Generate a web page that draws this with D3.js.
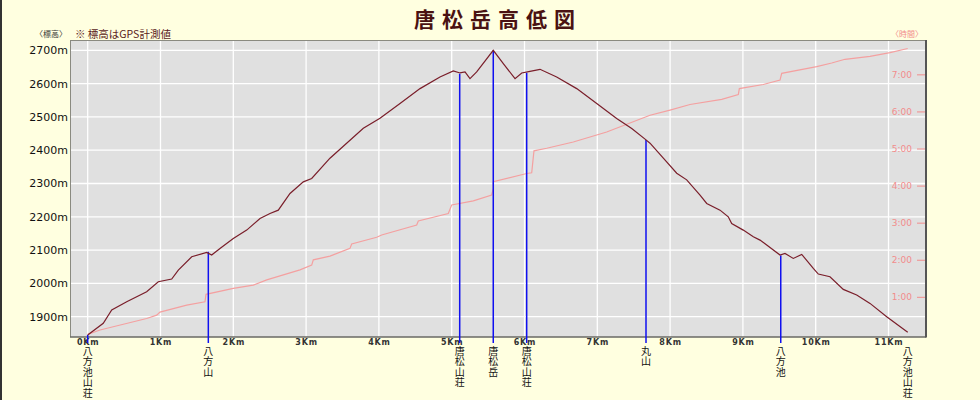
<!DOCTYPE html>
<html lang="ja">
<head>
<meta charset="UTF-8">
<title>唐松岳高低図</title>
<script src="https://cdnjs.cloudflare.com/ajax/libs/d3/7.8.5/d3.min.js"></script>
<style>
  body { margin: 0; background: #FFFFE0; }
  svg { display: block; }
  text { font-family: "DejaVu Sans", sans-serif; }
  .jp { font-family: "Noto Sans CJK JP", sans-serif; }
  .tate { writing-mode: vertical-rl; text-orientation: upright; }
</style>
</head>
<body>
<div id="chart"></div>
<script>
// 標高 (km, m)
const distKm = [0, 0.214, 0.330, 0.536, 0.810, 0.970, 1.154, 1.245, 1.429, 1.635, 1.703, 1.817, 2.0, 2.184, 2.367, 2.504, 2.618, 2.779, 2.962, 3.077, 3.328, 3.786, 4.015, 4.290, 4.565, 4.839, 5.022, 5.114, 5.183, 5.251, 5.343, 5.571, 5.709, 5.870, 5.962, 6.075, 6.213, 6.442, 6.717, 6.992, 7.266, 7.473, 7.669, 7.724, 7.907, 8.091, 8.228, 8.411, 8.503, 8.686, 8.799, 8.846, 9.005, 9.143, 9.235, 9.327, 9.510, 9.578, 9.692, 9.808, 9.967, 10.036, 10.196, 10.379, 10.563, 10.746, 10.975, 11.264];
const elevM = [1845, 1880, 1920, 1945, 1975, 2005, 2013, 2040, 2080, 2093, 2085, 2105, 2135, 2160, 2195, 2210, 2220, 2270, 2305, 2315, 2376, 2466, 2496, 2540, 2585, 2620, 2638, 2632, 2635, 2615, 2635, 2700, 2660, 2615, 2632, 2637, 2643, 2620, 2585, 2540, 2495, 2465, 2431, 2421, 2376, 2331, 2311, 2265, 2240, 2220, 2200, 2180, 2160, 2140, 2130, 2115, 2085, 2090, 2075, 2087, 2045, 2028, 2020, 1982, 1965, 1940, 1900, 1853];

// 時間 (km, 時間)
const timeKm = [0, 0.169, 0.810, 0.948, 0.993, 1.360, 1.611, 1.625, 2.0, 2.275, 2.459, 2.916, 3.077, 3.099, 3.328, 3.603, 3.626, 3.970, 4.038, 4.519, 4.541, 4.953, 5.0, 5.297, 5.549, 5.571, 5.571, 6.03, 6.099, 6.13, 6.305, 6.670, 7.129, 7.724, 7.999, 8.273, 8.709, 8.937, 8.951, 9.280, 9.510, 9.533, 10.014, 10.220, 10.402, 10.746, 11.021, 11.264];
const timeH = [0, 0.12, 0.43, 0.52, 0.60, 0.79, 0.88, 1.08, 1.24, 1.33, 1.47, 1.74, 1.87, 2.01, 2.11, 2.32, 2.44, 2.62, 2.68, 2.95, 3.06, 3.26, 3.49, 3.60, 3.76, 3.94, 4.12, 4.34, 4.36, 4.95, 5.02, 5.19, 5.46, 5.91, 6.05, 6.20, 6.34, 6.47, 6.63, 6.74, 6.86, 7.04, 7.22, 7.32, 7.42, 7.50, 7.60, 7.71];

// 地点
const placeNames = ["八方池山荘", "八方山", "唐松山荘", "唐松岳", "唐松山荘", "丸山", "八方池", "八方池山荘"];
const placeKm = [0, 1.657, 5.11, 5.571, 6.03, 7.669, 9.52, 11.264];
const placeElev = [1845, 2095, 2630, 2700, 2633, 2431, 2084, 1853];
const placeLine = [true, true, true, true, true, true, true, false];

const kmTicks = d3.range(0, 12);
const elevTicks = d3.range(1900, 2701, 100);
const timeTicks = [1, 2, 3, 4, 5, 6, 7];

const W = 980, H = 400;
const L = 70, R = 926, T = 40, B = 337;

const svg = d3.select("#chart").append("svg")
  .attr("width", W).attr("height", H);

svg.append("rect").attr("width", W).attr("height", H).attr("fill", "#FFFFE0");
svg.append("rect").attr("x", 0).attr("y", 0).attr("width", 2).attr("height", H).attr("fill", "#333");

const x = d3.scaleLinear().domain([-0.243, 11.515]).range([L, R]);
const y = d3.scaleLinear().domain([1839, 2731]).range([B, T]);
const yT = d3.scaleLinear().domain([-0.07, 7.94]).range([B, T]);

// プロット領域
svg.append("rect")
  .attr("x", L).attr("y", T).attr("width", R - L).attr("height", B - T)
  .attr("fill", "#E0E0E0");

// グリッド
svg.append("g").selectAll("line").data(kmTicks).join("line")
  .attr("x1", d => x(d)).attr("x2", d => x(d))
  .attr("y1", T).attr("y2", B)
  .attr("stroke", "#fff").attr("stroke-width", 1.3);
svg.append("g").selectAll("line").data(elevTicks).join("line")
  .attr("x1", L).attr("x2", R)
  .attr("y1", d => y(d)).attr("y2", d => y(d))
  .attr("stroke", "#fff").attr("stroke-width", 1.3);

// 枠
svg.append("line").attr("x1", L).attr("x2", R).attr("y1", T + 0.5).attr("y2", T + 0.5)
  .attr("stroke", "#8a8a80").attr("stroke-width", 1);
svg.append("line").attr("x1", L + 0.5).attr("x2", L + 0.5).attr("y1", T).attr("y2", B)
  .attr("stroke", "#8a8a80").attr("stroke-width", 1);
svg.append("line").attr("x1", L).attr("x2", R).attr("y1", B).attr("y2", B)
  .attr("stroke", "#6a6a66").attr("stroke-width", 1.5);
svg.append("line").attr("x1", R).attr("x2", R).attr("y1", T).attr("y2", B + 0.5)
  .attr("stroke", "#555").attr("stroke-width", 2);

// 標高軸ラベル
svg.append("g").selectAll("text").data(elevTicks).join("text")
  .attr("x", 68).attr("y", d => y(d)).attr("dy", "0.36em")
  .attr("text-anchor", "end").attr("font-size", 11).attr("fill", "#111")
  .text(d => d + "m");

// 距離ラベル
svg.append("g").selectAll("text").data(kmTicks).join("text")
  .attr("x", d => x(d) + 0.5).attr("y", 345)
  .attr("text-anchor", "middle").attr("font-size", 8).attr("font-weight", "bold")
  .attr("letter-spacing", 0.8).attr("fill", "#333")
  .text(d => d + "Km");

// 時間軸
const tg = svg.append("g").selectAll("g").data(timeTicks).join("g");
tg.append("text")
  .attr("x", 912).attr("y", d => yT(d)).attr("dy", "0.35em")
  .attr("text-anchor", "end").attr("font-size", 9).attr("fill", "#F28C8C")
  .text(d => d + ":00");
tg.append("line")
  .attr("x1", 917).attr("x2", 925)
  .attr("y1", d => yT(d)).attr("y2", d => yT(d))
  .attr("stroke", "#F28C8C").attr("stroke-width", 1);

// 時間の線
const timeData = timeKm.map((k, i) => [k, timeH[i]]);
svg.append("path").datum(timeData)
  .attr("fill", "none").attr("stroke", "#F4A0A0").attr("stroke-width", 1.2)
  .attr("d", d3.line().x(d => x(d[0])).y(d => yT(d[1])));

// 地点の縦線
const places = placeNames.map((n, i) => ({ name: n, km: placeKm[i], elev: placeElev[i], line: placeLine[i] }));
svg.append("g").selectAll("line").data(places.filter(p => p.line)).join("line")
  .attr("x1", d => x(d.km)).attr("x2", d => x(d.km))
  .attr("y1", d => y(d.elev)).attr("y2", 343)
  .attr("stroke", "#1010F0").attr("stroke-width", 1.5);

// 標高の線
const elevData = distKm.map((k, i) => [k, elevM[i]]);
svg.append("path").datum(elevData)
  .attr("fill", "none").attr("stroke", "#7A1E2A").attr("stroke-width", 1.2)
  .attr("d", d3.line().x(d => x(d[0])).y(d => y(d[1])));

// 地点名（縦書き）
svg.append("g").selectAll("text").data(places).join("text")
  .attr("class", "jp tate")
  .attr("x", d => x(d.km))
  .attr("y", 346)
  .attr("font-size", 10).attr("letter-spacing", 0.5).attr("fill", "#111")
  .text(d => d.name);

// タイトル・注記
svg.append("text").attr("class", "jp")
  .attr("x", 498).attr("y", 27).attr("text-anchor", "middle")
  .attr("font-size", 21).attr("font-weight", "bold").attr("letter-spacing", 7)
  .attr("fill", "#4A1212").text("唐松岳高低図");
svg.append("text").attr("class", "jp")
  .attr("x", 35).attr("y", 37).attr("font-size", 8).attr("fill", "#333")
  .text("〈標高〉");
svg.append("text").attr("class", "jp")
  .attr("x", 75).attr("y", 38).attr("font-size", 10.5).attr("fill", "#5A1A1A")
  .text("※ 標高はGPS計測値");
svg.append("text").attr("class", "jp")
  .attr("x", 923).attr("y", 37).attr("text-anchor", "end").attr("font-size", 8).attr("fill", "#F28C8C")
  .text("〈時間〉");
</script>
</body>
</html>
